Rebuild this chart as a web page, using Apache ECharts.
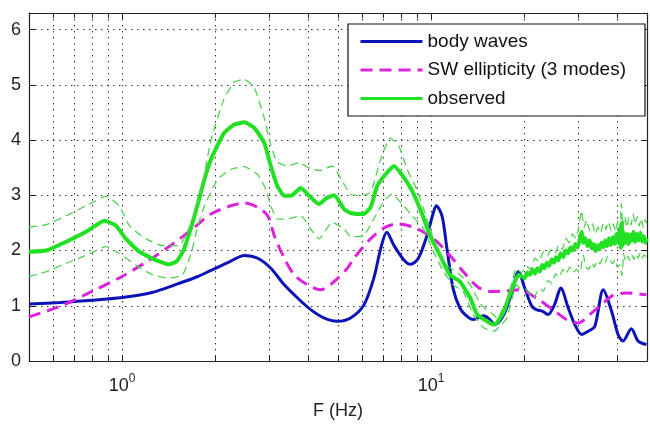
<!DOCTYPE html>
<html><head><meta charset="utf-8">
<script src="https://cdn.jsdelivr.net/npm/echarts@6/dist/echarts.min.js"></script>
<style>html,body{margin:0;padding:0;background:#fff}#c{width:650px;height:425px}</style>
</head><body><div id="c"></div>
<script>
// ---- data ----
const xLimits = [0.5, 50];
const yLimits = [0, 6.3];
const yTickLabels = [0, 1, 2, 3, 4, 5, 6];
const legendNames = ['body waves', 'SW ellipticity (3 modes)', 'observed'];

const bodyF = [0.5, 0.63, 0.8, 1.0, 1.25, 1.52, 1.76, 1.94, 2.2, 2.49, 2.75, 3.03, 3.35, 3.7, 4.08, 4.5, 4.97, 5.49, 6.07, 6.53, 6.87, 7.19, 7.59, 8.17, 8.59, 9.1, 9.7, 10.1, 10.4, 10.85, 11.25, 11.8, 12.4, 13.0, 13.7, 14.8, 15.5, 16.1, 17.2, 18.3, 19.2, 20.1, 21.2, 21.9, 23.0, 23.9, 25.1, 26.3, 27.8, 29.2, 30.7, 32.3, 33.9, 36.1, 38.4, 40.3, 41.8, 44.5, 46.8, 49.8];
const bodyV = [1.03, 1.06, 1.10, 1.15, 1.24, 1.40, 1.53, 1.64, 1.78, 1.91, 1.86, 1.68, 1.38, 1.14, 0.93, 0.78, 0.72, 0.78, 1.02, 1.50, 2.03, 2.33, 2.09, 1.83, 1.75, 1.86, 2.27, 2.62, 2.81, 2.63, 2.05, 1.30, 0.96, 0.82, 0.75, 0.82, 0.75, 0.66, 0.84, 1.26, 1.62, 1.32, 0.99, 0.93, 0.90, 0.84, 1.02, 1.32, 0.96, 0.66, 0.48, 0.54, 0.63, 1.29, 0.90, 0.48, 0.36, 0.585, 0.36, 0.30];

const swF = [0.5, 0.63, 0.8, 1.0, 1.22, 1.46, 1.69, 1.94, 2.25, 2.49, 2.75, 2.96, 3.11, 3.35, 3.61, 3.98, 4.39, 4.86, 5.36, 5.63, 6.37, 7.05, 7.78, 8.58, 9.46, 10.45, 11.5, 12.7, 14.1, 15.5, 17.5, 19.4, 21.9, 24.8, 27.5, 29.9, 32.6, 36.1, 38.8, 42.9, 49.8];
const swV = [0.80, 0.99, 1.26, 1.53, 1.82, 2.12, 2.39, 2.66, 2.81, 2.86, 2.78, 2.63, 2.27, 1.86, 1.56, 1.38, 1.29, 1.44, 1.68, 1.86, 2.21, 2.41, 2.48, 2.44, 2.335, 2.16, 1.915, 1.62, 1.35, 1.26, 1.27, 1.29, 1.14, 0.93, 0.75, 0.69, 0.84, 1.05, 1.19, 1.23, 1.20];

const obsF = [0.5, 0.57, 0.66, 0.765, 0.877, 0.956, 1.03, 1.137, 1.287, 1.42, 1.50, 1.58, 1.67, 1.76, 1.85, 1.94, 2.14, 2.31, 2.49, 2.68, 2.885, 3.03, 3.18, 3.35, 3.52, 3.79, 4.08, 4.34, 4.6, 4.86, 5.23, 5.49, 6.06, 6.37, 6.70, 7.13, 7.59, 8.17, 8.69, 9.22, 9.94, 10.7, 11.5, 12.4, 13.4, 14.1, 15.5, 16.1, 17.2, 18.3, 19.2,
  20.1, 20.5, 20.9, 21.3, 21.7, 22.1, 22.5, 22.9, 23.3, 23.7, 24.1, 24.6, 25.0, 25.4, 25.8, 26.3, 26.8, 27.3, 27.8, 28.3, 28.8, 29.3, 29.8, 30.3, 30.7, 31.1, 31.6, 32.1, 32.6, 33.1, 33.6, 34.1, 34.6, 35.1, 35.6, 36.1, 36.6, 37.1, 37.7, 38.2, 38.8, 39.3, 39.8, 40.3, 40.8, 41.1, 41.4, 41.7, 42.1, 42.6, 43.1, 43.6, 44.1, 44.6, 45.2, 45.8, 46.4, 47.0, 47.6, 48.2, 48.8, 49.4, 49.8];
const obsV = [1.98, 2.00, 2.16, 2.34, 2.54, 2.45, 2.21, 1.98, 1.825, 1.75, 1.80, 2.00, 2.40, 2.85, 3.30, 3.65, 4.13, 4.28, 4.32, 4.22, 3.95, 3.53, 3.17, 2.99, 2.99, 3.13, 2.96, 2.84, 2.95, 3.0, 2.75, 2.68, 2.66, 2.78, 3.17, 3.38, 3.53, 3.32, 3.08, 2.75, 2.27, 1.915, 1.56, 1.44, 1.14, 0.84, 0.69, 0.66, 0.90, 1.32, 1.56,
  1.50, 1.60, 1.56, 1.66, 1.58, 1.68, 1.62, 1.74, 1.68, 1.78, 1.72, 1.84, 1.78, 1.88, 1.82, 1.95, 1.88, 2.00, 1.95, 2.06, 2.00, 2.12, 2.06, 2.20, 2.34, 2.14, 2.22, 2.08, 2.18, 2.04, 2.12, 1.99, 2.10, 2.02, 2.14, 2.06, 2.18, 2.08, 2.22, 2.10, 2.24, 2.12, 2.30, 2.14, 2.40, 2.05, 2.50, 2.10, 2.32, 2.14, 2.30, 2.12, 2.28, 2.18, 2.34, 2.16, 2.30, 2.18, 2.32, 2.16, 2.26, 2.14, 2.22];

const upF = [0.5, 0.57, 0.66, 0.765, 0.888, 0.98, 1.056, 1.195, 1.353, 1.53, 1.69, 1.80, 1.94, 2.14, 2.31, 2.49, 2.68, 2.885, 3.03, 3.18, 3.43, 3.74, 4.08, 4.39, 4.79, 5.23, 5.49, 5.92, 6.37, 6.87, 7.38, 7.87, 8.37, 8.99, 9.70, 10.45, 11.25, 12.4, 13.4, 14.5, 15.9, 16.3, 17.6,
  18.9, 19.6, 20.3, 21.0, 21.7, 22.4, 23.1, 23.8, 24.5, 25.2, 25.9, 26.6, 27.3, 28.0, 28.7, 29.4, 30.0, 30.7, 31.3, 31.9, 32.6, 33.3, 34.0, 34.7, 35.4, 36.1, 36.8, 37.5, 38.2, 38.9, 39.6, 40.3, 40.9, 41.3, 41.8, 42.4, 43.0, 43.7, 44.4, 45.1, 45.8, 46.5, 47.2, 47.9, 48.6, 49.3, 49.8];
const upV = [2.42, 2.47, 2.63, 2.81, 2.98, 2.81, 2.45, 2.21, 2.09, 2.09, 2.55, 3.05, 4.0, 4.75, 5.05, 5.1, 4.95, 4.4, 3.9, 3.6, 3.53, 3.59, 3.48, 3.45, 3.53, 3.2, 3.02, 2.99, 3.05, 3.65, 4.04, 3.89, 3.47, 3.11, 2.57, 2.03, 1.735, 1.56, 1.38, 1.02, 0.84, 0.78, 1.08,
  1.68, 1.60, 1.72, 1.66, 1.86, 1.80, 1.98, 1.90, 2.02, 1.95, 2.10, 2.02, 2.22, 2.14, 2.30, 2.22, 2.40, 2.72, 2.42, 2.55, 2.36, 2.48, 2.30, 2.42, 2.32, 2.50, 2.38, 2.52, 2.36, 2.48, 2.34, 2.55, 2.40, 2.85, 2.42, 2.62, 2.42, 2.60, 2.46, 2.66, 2.48, 2.62, 2.44, 2.58, 2.42, 2.56, 2.50];

const loF = [0.5, 0.57, 0.66, 0.765, 0.888, 0.98, 1.109, 1.256, 1.42, 1.569, 1.674, 1.76, 1.848, 2.04, 2.254, 2.487, 2.745, 2.92, 3.03, 3.18, 3.43, 3.79, 4.08, 4.34, 4.79, 5.23, 5.49, 6.06, 6.53, 7.05, 7.48, 8.07, 8.69, 9.46, 10.19, 10.97, 11.8, 12.7, 13.7, 14.8, 15.9, 16.3, 17.6,
  18.9, 19.6, 20.3, 21.0, 21.5, 22.0, 22.5, 23.1, 23.9, 24.6, 25.3, 26.0, 26.7, 27.4, 28.1, 28.8, 29.6, 30.3, 31.1, 31.7, 32.4, 33.1, 33.8, 34.5, 35.2, 35.9, 36.6, 37.3, 38.0, 38.7, 39.4, 40.1, 40.8, 41.5, 42.0, 42.6, 43.3, 44.0, 44.7, 45.4, 46.1, 46.8, 47.5, 48.2, 48.9, 49.8];
const loV = [1.53, 1.62, 1.77, 1.915, 2.07, 1.95, 1.735, 1.56, 1.50, 1.56, 1.95, 2.45, 2.81, 3.29, 3.47, 3.52, 3.38, 3.11, 2.81, 2.57, 2.57, 2.63, 2.39, 2.21, 2.51, 2.39, 2.25, 2.27, 2.57, 2.90, 3.02, 2.84, 2.63, 2.39, 1.98, 1.62, 1.38, 1.26, 0.84, 0.60, 0.54, 0.57, 0.78,
  1.38, 1.30, 1.30, 1.20, 1.14, 1.24, 1.32, 1.26, 1.46, 1.40, 1.58, 1.52, 1.66, 1.58, 1.70, 1.60, 1.66, 1.60, 1.92, 1.70, 1.66, 1.78, 1.70, 1.82, 1.76, 1.86, 1.78, 1.90, 1.82, 1.76, 1.84, 1.70, 1.74, 1.55, 1.95, 1.80, 1.90, 1.82, 1.92, 1.84, 1.94, 1.86, 1.95, 1.86, 1.92, 1.89];

// ---- chart ----
const FONT = '"Liberation Sans", Arial, Helvetica, sans-serif';
const pairs = (f, v) => f.map((x, i) => [x, v[i]]);
const dotted = { color: '#333', width: 1, type: [1.5, 4.5] };

function xAxisBase(pos, showLabel) {
  return {
    type: 'log', logBase: 10, min: xLimits[0], max: xLimits[1], position: pos,
    axisLine: { show: true, onZero: false, lineStyle: { color: '#222', width: 1.2 } },
    axisTick: { show: true, inside: true, length: 6, lineStyle: { color: '#222' } },
    minorTick: { show: true, splitNumber: 9, length: 5, lineStyle: { color: '#222' } },
    splitLine: { show: showLabel, lineStyle: dotted },
    minorSplitLine: { show: showLabel, lineStyle: dotted },
    axisLabel: showLabel ? {
      show: true, margin: 12, color: '#222', fontFamily: FONT,
      formatter: function (v) {
        const e = Math.round(Math.log10(v));
        if (Math.abs(v - Math.pow(10, e)) > 1e-6 * v) return '';
        return '{b|10}{s|' + e + '}';
      },
      rich: {
        b: { fontSize: 18, fontFamily: FONT, color: '#222' },
        s: { fontSize: 12, fontFamily: FONT, color: '#222', padding: [0, 0, 14, 0] }
      }
    } : { show: false },
    name: showLabel ? 'F (Hz)' : '', nameLocation: 'middle', nameGap: 41,
    nameTextStyle: { fontSize: 18, fontFamily: FONT, color: '#222' }
  };
}
function yAxisBase(pos, showLabel) {
  return {
    type: 'value', min: yLimits[0], max: yLimits[1], interval: 1, position: pos,
    axisLine: { show: true, onZero: false, lineStyle: { color: '#222', width: 1.2 } },
    axisTick: { show: true, inside: true, length: 6, lineStyle: { color: '#222' } },
    splitLine: { show: showLabel, lineStyle: dotted },
    axisLabel: showLabel ? {
      show: true, margin: 8, fontSize: 18, fontFamily: FONT, color: '#222',
      formatter: v => (yTickLabels.indexOf(v) >= 0 ? String(v) : '')
    } : { show: false }
  };
}

const lineCommon = { type: 'line', showSymbol: false, symbol: 'none', smooth: 0.3, xAxisIndex: 0, yAxisIndex: 0 };

const option = {
  animation: false,
  backgroundColor: '#fff',
  grid: { left: 29, right: 1, top: 13, bottom: 62, containLabel: false },
  xAxis: [xAxisBase('bottom', true), xAxisBase('top', false)],
  yAxis: [yAxisBase('left', true), yAxisBase('right', false)],
  legend: {
    data: legendNames, orient: 'vertical', left: 348, top: 24,
    padding: [8, 19, 8, 11], itemWidth: 62, itemHeight: 14, itemGap: 9.5,
    backgroundColor: '#fff', borderColor: '#111', borderWidth: 1.2, borderRadius: 0,
    itemStyle: { opacity: 0, borderWidth: 0 },
    lineStyle: { width: 3 },
    textStyle: { fontSize: 19, fontFamily: FONT, color: '#111' },
    selectedMode: false
  },
  series: [
    Object.assign({}, lineCommon, { name: legendNames[0], data: pairs(bodyF, bodyV),
      lineStyle: { color: '#0c14b8', width: 3 }, itemStyle: { color: '#0c14b8' } }),
    Object.assign({}, lineCommon, { name: legendNames[1], data: pairs(swF, swV),
      lineStyle: { color: '#dd22dd', width: 3, type: [12, 7] }, itemStyle: { color: '#dd22dd' } }),
    Object.assign({}, lineCommon, { name: legendNames[2], data: pairs(obsF, obsV), smooth: 0.15,
      lineStyle: { color: '#22e022', width: 4 }, itemStyle: { color: '#22e022' } }),
    Object.assign({}, lineCommon, { name: 'observed + std', data: pairs(upF, upV), smooth: 0.15,
      lineStyle: { color: '#4fd34f', width: 1.3, type: [8, 5] }, itemStyle: { color: '#4fd34f' } }),
    Object.assign({}, lineCommon, { name: 'observed - std', data: pairs(loF, loV), smooth: 0.15,
      lineStyle: { color: '#4fd34f', width: 1.3, type: [8, 5] }, itemStyle: { color: '#4fd34f' } })
  ]
};
const chart = echarts.init(document.getElementById('c'), null, { renderer: 'canvas' });
chart.setOption(option);
</script>
</body></html>
